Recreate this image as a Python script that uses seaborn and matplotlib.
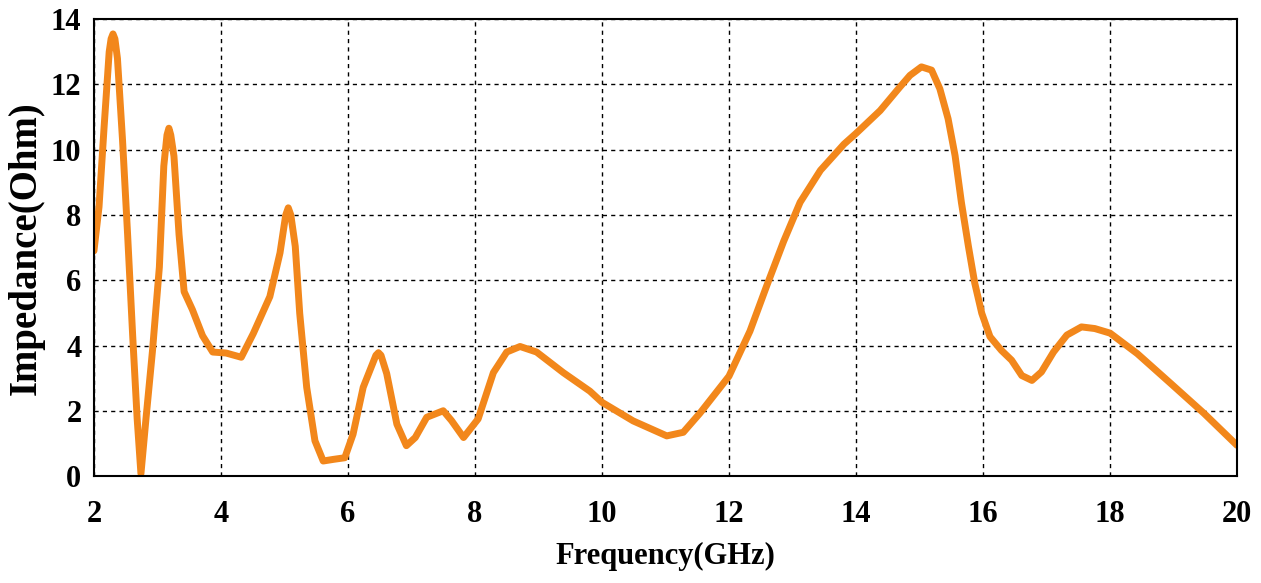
import pandas as pd
import seaborn as sns
import matplotlib
matplotlib.use("Agg")
import matplotlib.pyplot as plt

# values
freq_ghz = [2.0, 2.08, 2.16, 2.24, 2.27, 2.30, 2.33, 2.37, 2.45, 2.53, 2.61, 2.68,
            2.74, 2.82, 2.92, 3.03, 3.10, 3.15, 3.18, 3.21, 3.26, 3.34, 3.42, 3.55,
            3.71, 3.87, 4.08, 4.32, 4.51, 4.77, 4.93, 5.02, 5.06, 5.10, 5.17, 5.24,
            5.35, 5.48, 5.61, 5.77, 5.95, 6.08, 6.24, 6.44, 6.48, 6.52, 6.61, 6.77,
            6.92, 7.06, 7.24, 7.50, 7.63, 7.82, 8.05, 8.29, 8.50, 8.71, 8.97, 9.39,
            9.81, 10.0, 10.49, 11.02, 11.28, 11.54, 12.0, 12.33, 12.59, 12.86,
            13.12, 13.44, 13.81, 14.0, 14.38, 14.69, 14.85, 15.03, 15.19, 15.32,
            15.45, 15.56, 15.66, 15.77, 15.87, 15.98, 16.11, 16.29, 16.45, 16.61,
            16.77, 16.92, 17.11, 17.32, 17.55, 17.76, 18.0, 18.43, 18.96, 19.48,
            20.0]
impedance_ohm = [6.9, 8.25, 10.7, 13.0, 13.4, 13.55, 13.4, 12.8, 10.3, 7.4, 4.3, 1.77,
                 0.07, 1.77, 3.8, 6.4, 9.5, 10.45, 10.66, 10.45, 9.8, 7.4, 5.65, 5.1,
                 4.3, 3.8, 3.77, 3.64, 4.37, 5.5, 6.84, 8.0, 8.22, 8.0, 7.04, 4.99,
                 2.72, 1.08, 0.46, 0.51, 0.56, 1.28, 2.72, 3.7, 3.78, 3.7, 3.14, 1.59,
                 0.93, 1.18, 1.8, 2.0, 1.7, 1.18, 1.75, 3.17, 3.8, 3.97, 3.8, 3.17,
                 2.6, 2.26, 1.69, 1.23, 1.34, 1.92, 3.06, 4.44, 5.81, 7.19,
                 8.39, 9.37, 10.17, 10.5, 11.2, 11.92, 12.28, 12.54, 12.44, 11.87,
                 10.95, 9.82, 8.38, 7.04, 5.91, 4.99, 4.27, 3.85, 3.55, 3.08,
                 2.93, 3.19, 3.8, 4.32, 4.57, 4.52, 4.38, 3.75, 2.83, 1.92,
                 0.94]
x_ticks = [2, 4, 6, 8, 10, 12, 14, 16, 18, 20]
y_ticks = [0, 2, 4, 6, 8, 10, 12, 14]

df = pd.DataFrame({"Frequency": freq_ghz, "Impedance": impedance_ohm})

sns.set_style("white")
plt.rcParams["font.family"] = ["Liberation Serif", "DejaVu Serif"]
plt.rcParams["font.weight"] = "bold"
plt.rcParams["text.color"] = "black"
plt.rcParams["axes.labelcolor"] = "black"

fig = plt.figure(figsize=(12.61, 5.83), dpi=100)
ax = fig.add_axes([0.0745, 0.1835, 0.9065, 0.7835])

sns.lineplot(data=df, x="Frequency", y="Impedance", ax=ax,
             color="#F2871B", linewidth=5, solid_joinstyle="round",
             solid_capstyle="round")

ax.set_xlim(2, 20)
ax.set_ylim(0, 14)
ax.set_xticks(x_ticks)
ax.set_yticks(y_ticks)
ax.grid(True, color="black", linestyle=(0, (3, 3)), linewidth=1.0)
for s in ax.spines.values():
    s.set_color("black")
    s.set_linewidth(1.5)
ax.tick_params(axis="both", direction="out", length=5, width=1.2,
               colors="black", labelsize=22)
ax.tick_params(axis="x", pad=12)
ax.tick_params(axis="y", pad=4)
for lbl in ax.get_xticklabels() + ax.get_yticklabels():
    lbl.set_fontweight("bold")

ax.set_xlabel("Frequency(GHz)", fontsize=22, fontweight="bold")
ax.set_ylabel("Impedance(Ohm)", fontsize=28, fontweight="bold")
ax.xaxis.set_label_coords(0.5, -0.145)
ax.yaxis.set_label_coords(-0.043, 0.5)

plt.savefig("out.png", dpi=100)
